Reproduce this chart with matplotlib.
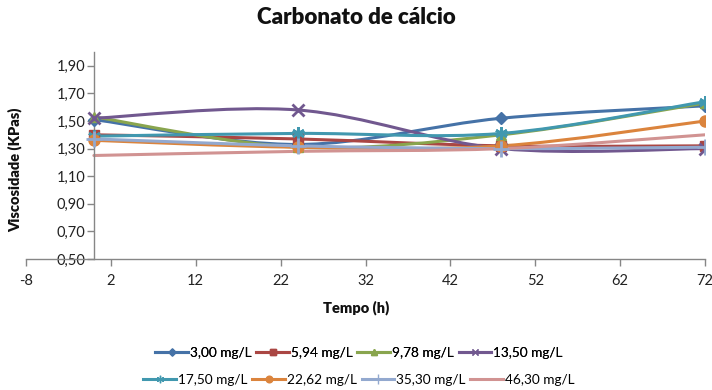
import matplotlib
matplotlib.use("Agg")
import matplotlib.pyplot as plt
import numpy as np
from matplotlib.path import Path
from matplotlib.patches import PathPatch
from matplotlib.lines import Line2D
from matplotlib.ticker import FuncFormatter

plt.rcParams['font.family'] = ['Lato', 'DejaVu Sans']
plt.rcParams['axes.unicode_minus'] = False

# ---- data ----
tempo = [0, 24, 48, 72]
labels = ["3,00 mg/L", "5,94 mg/L", "9,78 mg/L", "13,50 mg/L",
          "17,50 mg/L", "22,62 mg/L", "35,30 mg/L", "46,30 mg/L"]
s_300 = [1.51, 1.33, 1.52, 1.61]
s_594 = [1.40, 1.37, 1.32, 1.32]
s_978 = [1.53, 1.31, 1.40, 1.63]
s_1350 = [1.52, 1.58, 1.30, 1.30]
s_1750 = [1.39, 1.41, 1.41, 1.64]
s_2262 = [1.36, 1.31, 1.32, 1.50]
s_3530 = [1.37, 1.32, 1.30, 1.31]
s_4630 = [1.25, 1.28, 1.30, 1.40]
series = [s_300, s_594, s_978, s_1350, s_1750, s_2262, s_3530, s_4630]
x_ticks = [-8, 2, 12, 22, 32, 42, 52, 62, 72]
y_ticks = [0.5, 0.7, 0.9, 1.1, 1.3, 1.5, 1.7, 1.9]

colors = ["#4572A7", "#AA4643", "#89A54E", "#71588F",
          "#4198AF", "#DB843D", "#93A9CF", "#D19392"]
markers = ["D", "s", "^", "x", (6, 2, 0), "o", "+", None]
msizes = [6, 7, 7, 8, 9, 8, 11, 0]

fig = plt.figure(figsize=(7.12, 3.90), dpi=100)
ax = fig.add_axes([26/712, 1-259/390, (705-26)/712, (259-52)/390])
ax.set_xlim(-8, 72)
ax.set_ylim(0.5, 2.0)


def smooth_path(xs, ys):
    pts = np.column_stack([xs, ys]).astype(float)
    n = len(pts)
    verts = [pts[0]]
    codes = [Path.MOVETO]
    for i in range(n - 1):
        p0 = pts[i - 1] if i > 0 else pts[i]
        p1 = pts[i]
        p2 = pts[i + 1]
        p3 = pts[i + 2] if i + 2 < n else pts[i + 1]
        c1 = p1 + (p2 - p0) / 6.0
        c2 = p2 - (p3 - p1) / 6.0
        verts += [c1, c2, p2]
        codes += [Path.CURVE4] * 3
    return Path(verts, codes)


handles = []
for ys, c, m, ms, lab in zip(series, colors, markers, msizes, labels):
    patch = PathPatch(smooth_path(tempo, ys), facecolor='none', edgecolor=c,
                      lw=2.2, zorder=2, capstyle='round')
    ax.add_patch(patch)
    if m is not None:
        mew = 2 if m in ("x", "+") or isinstance(m, tuple) else 1
        ax.plot(tempo, ys, linestyle='none', marker=m, markersize=ms,
                color=c, markeredgewidth=mew, zorder=3)
    handles.append(Line2D([], [], color=c, lw=2.2, marker=m,
                          markersize=(ms * 0.6 if m else 0),
                          markeredgewidth=1.0, label=lab))

ax.spines['left'].set_position(('data', 0))
ax.spines['top'].set_visible(False)
ax.spines['right'].set_visible(False)
for sp in ('left', 'bottom'):
    ax.spines[sp].set_color('#868686')
    ax.spines[sp].set_linewidth(1)

ax.set_xticks(x_ticks)
ax.set_yticks(y_ticks)
ax.yaxis.set_major_formatter(FuncFormatter(lambda v, p: f"{v:.2f}".replace('.', ',')))
ax.tick_params(axis='both', colors='#868686', labelcolor='#222222',
               labelsize=10.5, length=5, width=1)
ax.tick_params(axis='y', pad=1)
ax.tick_params(axis='x', pad=6)

fig.text(356/712, 1-18/390, "Carbonato de cálcio", ha='center', va='center',
         fontsize=16, fontweight='heavy', color='#111111')
fig.text(15/712, 1-170/390, "Viscosidade (KPas)", ha='center', va='center',
         rotation=90, fontsize=10.5, fontweight='heavy', color='#111111')
fig.text(356/712, 1-308/390, "Tempo (h)", ha='center', va='center',
         fontsize=10.5, fontweight='heavy', color='#111111')

leg_kw = dict(ncol=4, frameon=False, fontsize=9.8, handlelength=2.4,
              handletextpad=0.15, columnspacing=0.35, borderaxespad=0,
              borderpad=0)
leg1 = fig.legend(handles=handles[:4], loc='center',
                  bbox_to_anchor=(359/712, 1-353/390), **leg_kw)
fig.add_artist(leg1)
leg2 = fig.legend(handles=handles[4:], loc='center',
                  bbox_to_anchor=(359/712, 1-380/390), **leg_kw)

fig.savefig("out.png", dpi=100)
